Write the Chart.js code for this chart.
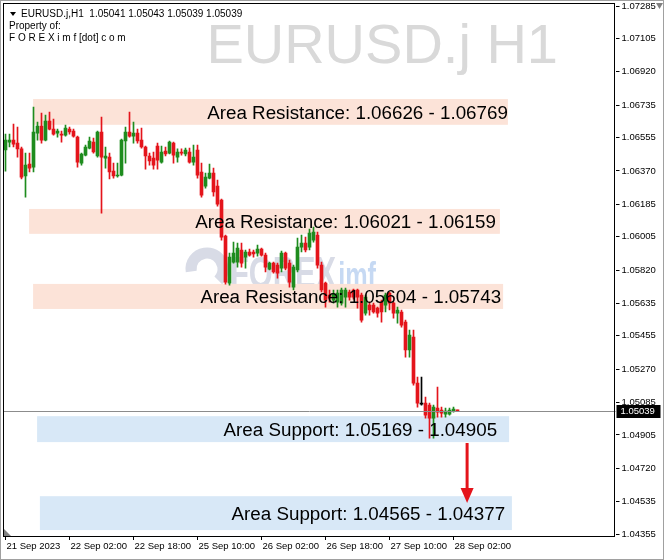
<!DOCTYPE html>
<html>
<head>
<meta charset="utf-8">
<title>EURUSD.j H1</title>
<script src="https://cdn.jsdelivr.net/npm/chart.js@4.4.0/dist/chart.umd.min.js"></script>
<style>
  html, body { margin: 0; padding: 0; background: #fff; }
  canvas { display: block; }
</style>
</head>
<body>
<canvas id="myChart" width="664" height="560"></canvas>
<script>
// hourly candles, 21 Sep 2023 10:00 -> 28 Sep 2023 03:00
const opens = [
  1.06486, 1.06530, 1.06541, 1.06524, 1.06492, 1.06342, 1.06408, 1.06391, 1.06580, 1.06619,
  1.06541, 1.06646, 1.06602, 1.06580, 1.06574, 1.06569, 1.06602, 1.06591, 1.06558, 1.06413,
  1.06458, 1.06497, 1.06530, 1.06453, 1.06586, 1.06441, 1.06447, 1.06369, 1.06342, 1.06347,
  1.06536, 1.06586, 1.06563, 1.06580, 1.06541, 1.06503, 1.06453, 1.06441, 1.06508, 1.06419,
  1.06480, 1.06469, 1.06524, 1.06447, 1.06475, 1.06464, 1.06475, 1.06419, 1.06486, 1.06364,
  1.06286, 1.06330, 1.06358, 1.06286, 1.06208, 1.06009, 1.05747, 1.05864, 1.05864, 1.05931,
  1.05892, 1.05920, 1.05920, 1.05914, 1.05936, 1.05903, 1.05825, 1.05858, 1.05847, 1.05831,
  1.05914, 1.05858, 1.05725, 1.05820, 1.05947, 1.05970, 1.05947, 1.05986, 1.06014, 1.05847,
  1.05747, 1.05681, 1.05653, 1.05642, 1.05636, 1.05670, 1.05698, 1.05709, 1.05709, 1.05681,
  1.05581, 1.05625, 1.05625, 1.05609, 1.05642, 1.05625, 1.05692, 1.05636, 1.05581, 1.05587,
  1.05531, 1.05376, 1.05448, 1.05192, 1.05076, 1.05081, 1.05070, 1.04998, 1.05054, 1.05043,
  1.05020, 1.05020, 1.05037, 1.05041
];
const highs = [
  1.06574, 1.06574, 1.06630, 1.06613, 1.06503, 1.06469, 1.06469, 1.06724, 1.06641, 1.06691,
  1.06680, 1.06697, 1.06658, 1.06602, 1.06591, 1.06624, 1.06613, 1.06602, 1.06563, 1.06469,
  1.06514, 1.06558, 1.06552, 1.06591, 1.06669, 1.06503, 1.06469, 1.06413, 1.06413, 1.06547,
  1.06613, 1.06697, 1.06641, 1.06602, 1.06608, 1.06508, 1.06469, 1.06475, 1.06524, 1.06508,
  1.06503, 1.06536, 1.06530, 1.06492, 1.06492, 1.06497, 1.06497, 1.06514, 1.06514, 1.06413,
  1.06358, 1.06408, 1.06386, 1.06319, 1.06214, 1.06014, 1.05914, 1.05975, 1.05970, 1.05970,
  1.05931, 1.05936, 1.05931, 1.05959, 1.05942, 1.05914, 1.05864, 1.05864, 1.05858, 1.05925,
  1.05920, 1.05875, 1.05847, 1.05997, 1.06014, 1.06003, 1.06047, 1.06058, 1.06031, 1.05864,
  1.05753, 1.05709, 1.05709, 1.05709, 1.05720, 1.05720, 1.05709, 1.05714, 1.05714, 1.05692,
  1.05681, 1.05642, 1.05636, 1.05614, 1.05653, 1.05692, 1.05698, 1.05642, 1.05614, 1.05598,
  1.05542, 1.05487, 1.05487, 1.05226, 1.05226, 1.05115, 1.05081, 1.05070, 1.05170, 1.05059,
  1.05054, 1.05054, 1.05059, 1.05043
];
const lows = [
  1.06369, 1.06503, 1.06503, 1.06447, 1.06325, 1.06225, 1.06364, 1.06364, 1.06541, 1.06524,
  1.06536, 1.06597, 1.06569, 1.06558, 1.06530, 1.06563, 1.06574, 1.06558, 1.06391, 1.06402,
  1.06453, 1.06492, 1.06469, 1.06447, 1.06136, 1.06386, 1.06325, 1.06330, 1.06336, 1.06342,
  1.06413, 1.06558, 1.06524, 1.06524, 1.06497, 1.06380, 1.06402, 1.06380, 1.06380, 1.06413,
  1.06453, 1.06464, 1.06413, 1.06419, 1.06458, 1.06453, 1.06413, 1.06402, 1.06330, 1.06225,
  1.06275, 1.06325, 1.06230, 1.06175, 1.05986, 1.05742, 1.05736, 1.05858, 1.05836, 1.05836,
  1.05831, 1.05897, 1.05892, 1.05897, 1.05897, 1.05809, 1.05820, 1.05803, 1.05775, 1.05809,
  1.05820, 1.05725, 1.05709, 1.05809, 1.05920, 1.05920, 1.05931, 1.05975, 1.05831, 1.05698,
  1.05614, 1.05642, 1.05636, 1.05614, 1.05625, 1.05614, 1.05653, 1.05659, 1.05609, 1.05531,
  1.05570, 1.05570, 1.05581, 1.05559, 1.05531, 1.05587, 1.05598, 1.05553, 1.05525, 1.05503,
  1.05337, 1.05337, 1.05181, 1.05059, 1.05070, 1.04998, 1.04887, 1.04887, 1.05004, 1.05004,
  1.05004, 1.05015, 1.05031, 1.05039
];
const closes = [
  1.06541, 1.06541, 1.06519, 1.06492, 1.06336, 1.06402, 1.06386, 1.06586, 1.06619, 1.06541,
  1.06646, 1.06602, 1.06574, 1.06591, 1.06569, 1.06608, 1.06586, 1.06563, 1.06419, 1.06464,
  1.06503, 1.06536, 1.06475, 1.06586, 1.06447, 1.06453, 1.06364, 1.06342, 1.06347, 1.06541,
  1.06586, 1.06563, 1.06580, 1.06536, 1.06503, 1.06453, 1.06425, 1.06402, 1.06430, 1.06475,
  1.06464, 1.06530, 1.06458, 1.06475, 1.06469, 1.06486, 1.06419, 1.06447, 1.06347, 1.06236,
  1.06336, 1.06358, 1.06253, 1.06186, 1.06003, 1.05753, 1.05892, 1.05914, 1.05942, 1.05858,
  1.05920, 1.05903, 1.05909, 1.05936, 1.05903, 1.05836, 1.05858, 1.05809, 1.05803, 1.05914,
  1.05831, 1.05753, 1.05836, 1.05947, 1.05970, 1.05931, 1.06025, 1.06031, 1.05847, 1.05709,
  1.05653, 1.05664, 1.05686, 1.05692, 1.05709, 1.05709, 1.05670, 1.05670, 1.05670, 1.05542,
  1.05670, 1.05598, 1.05587, 1.05581, 1.05587, 1.05681, 1.05636, 1.05581, 1.05598, 1.05514,
  1.05376, 1.05459, 1.05192, 1.05081, 1.05076, 1.05015, 1.04998, 1.05059, 1.05031, 1.05026,
  1.05037, 1.05043, 1.05048, 1.05039
];

// axis ticks as the terminal prints them
const xTickAt = [0, 16, 32, 48, 64, 80, 96, 112];
const xTickLabels = ['21 Sep 2023', '22 Sep 02:00', '22 Sep 18:00', '25 Sep 10:00',
                     '26 Sep 02:00', '26 Sep 18:00', '27 Sep 10:00', '28 Sep 02:00'];
const yTickValues = [1.07285, 1.07105, 1.06920, 1.06735, 1.06555, 1.06370, 1.06185, 1.06005,
                     1.05820, 1.05635, 1.05455, 1.05270, 1.05085, 1.04905, 1.04720, 1.04535, 1.04355];
const slotCount = 153;   // visible bar slots incl. empty right margin
const yMin = 1.04344, yMax = 1.07302;

// drawn zones (bar index range, price range) and their captions
const zoneFrom  = [6.9, 5.9, 6.9, 7.9, 8.6];
const zoneTo    = [125.6, 123.6, 124.4, 125.9, 126.6];
const zoneHigh  = [1.06769, 1.06159, 1.05743, 1.05009, 1.04565];
const zoneLow   = [1.06626, 1.06021, 1.05604, 1.04865, 1.04377];
const zoneKind  = ['res', 'res', 'res', 'sup', 'sup'];
const zoneTextEnd = [125.6, 122.6, 123.9, 122.9, 124.9];
const zoneText  = [
  'Area Resistance: 1.06626 - 1.06769',
  'Area Resistance: 1.06021 - 1.06159',
  'Area Resistance: 1.05604 - 1.05743',
  'Area Support: 1.05169 - 1.04905',
  'Area Support: 1.04565 - 1.04377'
];
const arrowAt = 115.4, arrowFrom = 1.04860, arrowTo = 1.04527;

const UP = '#1e8c1e', DOWN = '#e4141b', DOJI = '#000000';
const candleColor = opens.map((o, i) => closes[i] > o ? UP : closes[i] < o ? DOWN : DOJI);
const FAMILY = '"Liberation Sans", Arial, sans-serif';
const AXIS_FONT = { family: FAMILY, size: 9.5 };

const decorations = {
  id: 'decorations',
  beforeDatasetsDraw(chart) {
    const { ctx, scales: { x, y } } = chart;
    ctx.save();
    // big symbol watermark
    ctx.fillStyle = '#d9d9d9';
    ctx.font = '56px ' + FAMILY;
    ctx.textAlign = 'right';
    ctx.fillText('EURUSD.j H1', 558, 63);
    // logo watermark (narrow lettering)
    ctx.save();
    ctx.translate(230, 288);
    ctx.scale(0.7, 1);
    ctx.textAlign = 'left';
    ctx.font = 'bold 44px ' + FAMILY;
    ctx.fillStyle = '#d8dbe6';
    ctx.fillText('FOREX', 0, 0);
    const w = ctx.measureText('FOREX').width;
    ctx.font = 'bold 36px ' + FAMILY;
    ctx.fillStyle = '#c6d9f3';
    ctx.fillText('imf', w + 3, 0);
    ctx.restore();
    ctx.strokeStyle = '#d8dbe6';
    ctx.lineWidth = 11;
    ctx.beginPath();
    ctx.arc(207, 269, 16, Math.PI * 0.95, Math.PI * 2.25);
    ctx.stroke();
    // zones
    for (let i = 0; i < zoneText.length; i++) {
      const x0 = x.getPixelForValue(zoneFrom[i]), x1 = x.getPixelForValue(zoneTo[i]);
      const y0 = y.getPixelForValue(zoneHigh[i]), y1 = y.getPixelForValue(zoneLow[i]);
      ctx.fillStyle = zoneKind[i] === 'res' ? '#fce3d8' : '#d8e8f7';
      ctx.fillRect(x0, y0, x1 - x0, y1 - y0);
    }
    ctx.restore();
  },
  afterDatasetsDraw(chart) {
    const { ctx, chartArea: a, scales: { x, y } } = chart;
    ctx.save();
    // current price line
    const py = Math.round(y.getPixelForValue(closes[closes.length - 1])) + 0.5;
    ctx.strokeStyle = '#8c8c8c';
    ctx.lineWidth = 1;
    ctx.beginPath();
    ctx.moveTo(a.left, py);
    ctx.lineTo(a.right, py);
    ctx.stroke();
    // zone captions
    ctx.fillStyle = '#000';
    ctx.font = '18.8px ' + FAMILY;
    ctx.textAlign = 'right';
    for (let i = 0; i < zoneText.length; i++) {
      const mid = (y.getPixelForValue(zoneHigh[i]) + y.getPixelForValue(zoneLow[i])) / 2;
      ctx.fillText(zoneText[i], x.getPixelForValue(zoneTextEnd[i]), mid + 7);
    }
    // red arrow
    const ax = x.getPixelForValue(arrowAt);
    const ay0 = y.getPixelForValue(arrowFrom), ay1 = y.getPixelForValue(arrowTo);
    ctx.strokeStyle = '#e4141b';
    ctx.fillStyle = '#e4141b';
    ctx.lineWidth = 3;
    ctx.beginPath();
    ctx.moveTo(ax, ay0);
    ctx.lineTo(ax, ay1 - 10);
    ctx.stroke();
    ctx.beginPath();
    ctx.moveTo(ax - 6.5, ay1 - 15);
    ctx.lineTo(ax + 6.5, ay1 - 15);
    ctx.lineTo(ax, ay1);
    ctx.closePath();
    ctx.fill();
    ctx.restore();
  },
  afterDraw(chart) {
    const { ctx, chartArea: a, scales: { y } } = chart;
    ctx.save();
    // plot frame
    ctx.strokeStyle = '#000';
    ctx.lineWidth = 1;
    ctx.strokeRect(Math.floor(a.left) + 0.5, Math.floor(a.top) + 0.5,
                   Math.round(a.right - a.left) - 1, Math.round(a.bottom - a.top));
    // last price tag
    const last = closes[closes.length - 1];
    const py = Math.round(y.getPixelForValue(last));
    ctx.fillStyle = '#000';
    ctx.fillRect(a.right + 1, py - 6, 44, 13);
    ctx.fillStyle = '#fff';
    ctx.font = '9.5px ' + FAMILY;
    ctx.textBaseline = 'middle';
    ctx.fillText(last.toFixed(5), a.right + 5, py + 0.5);
    // header
    ctx.fillStyle = '#000';
    ctx.font = '10px ' + FAMILY;
    ctx.textBaseline = 'alphabetic';
    ctx.fillText('EURUSD.j,H1  1.05041 1.05043 1.05039 1.05039', 21, 17);
    ctx.fillText('Property of:', 9, 29);
    ctx.fillText('F O R E X i m f [dot] c o m', 9, 41);
    ctx.beginPath();
    ctx.moveTo(10, 12); ctx.lineTo(16, 12); ctx.lineTo(13, 16); ctx.closePath();
    ctx.fill();
    // shift markers
    ctx.fillStyle = '#808080';
    ctx.beginPath();
    ctx.moveTo(656, 3); ctx.lineTo(663, 3); ctx.lineTo(659.5, 9); ctx.closePath();
    ctx.fill();
    ctx.beginPath();
    ctx.moveTo(4, 529); ctx.lineTo(4, 536); ctx.lineTo(11, 536); ctx.closePath();
    ctx.fill();
    // window border
    ctx.strokeStyle = '#a0a0a0';
    ctx.strokeRect(0.5, 0.5, 663, 559);
    ctx.restore();
  }
};

const ctx = document.getElementById('myChart');
const myChart = new Chart(ctx, {
  type: 'bar',
  data: {
    labels: Array.from({ length: slotCount }, (_, i) => i),
    datasets: [
      {
        label: 'body',
        data: opens.map((o, i) => [o, closes[i]]),
        backgroundColor: candleColor,
        barThickness: 3,
        minBarLength: 1,
        grouped: false
      },
      {
        label: 'wick',
        data: lows.map((l, i) => [l, highs[i]]),
        backgroundColor: candleColor,
        barThickness: 1,
        grouped: false
      }
    ]
  },
  options: {
    responsive: false,
    animation: false,
    layout: { padding: { left: 3.5, top: 3, right: 0, bottom: 0 } },
    plugins: { legend: { display: false }, tooltip: { enabled: false } },
    scales: {
      x: {
        type: 'category',
        offset: true,
        afterBuildTicks: s => { s.ticks = xTickAt.map(v => ({ value: v })); },
        afterFit: s => { s.height = 24; s.paddingLeft = 0; s.paddingRight = 0; },
        grid: { display: true, offset: false, drawOnChartArea: false, drawTicks: true, tickLength: 4, color: '#000' },
        border: { display: false },
        ticks: {
          autoSkip: false, maxRotation: 0, align: 'start', padding: 1, labelOffset: 1,
          color: '#000', font: AXIS_FONT,
          callback: (v, i) => xTickLabels[i]
        }
      },
      y: {
        position: 'right',
        min: yMin,
        max: yMax,
        afterBuildTicks: s => { s.ticks = yTickValues.map(v => ({ value: v })); },
        afterFit: s => { s.width = 48.5; s.paddingTop = 0; s.paddingBottom = 0; },
        grid: { display: true, drawOnChartArea: false, drawTicks: true, tickLength: 4, color: '#000' },
        border: { display: false },
        ticks: {
          padding: 2, color: '#000', font: AXIS_FONT,
          callback: v => v.toFixed(5)
        }
      }
    }
  },
  plugins: [decorations]
});
</script>
</body>
</html>
